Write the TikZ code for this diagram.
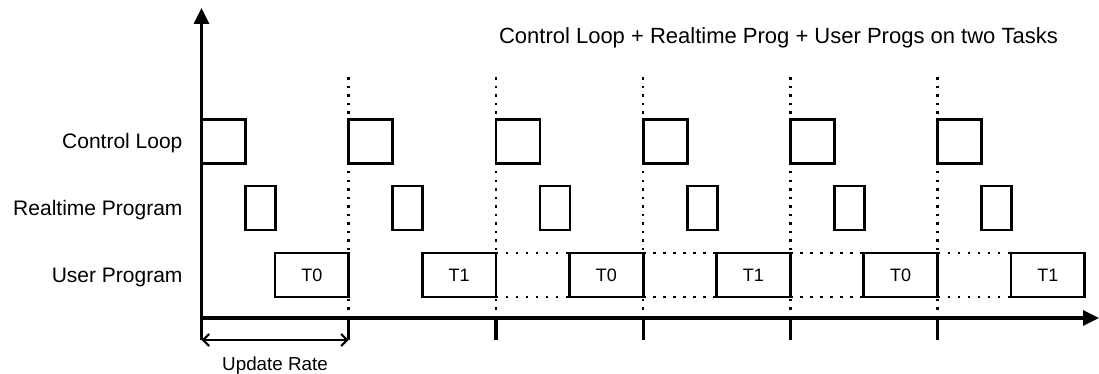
\documentclass[tikz,border=0pt]{standalone}
\usepackage{fontspec}
\setmainfont{Liberation Sans}
\usetikzlibrary{arrows.meta}

\tikzset{
  task/.style={draw, line width=2.8pt, inner sep=0pt, outer sep=0pt, minimum height=44pt, anchor=north west, font=\fontsize{18}{20}\selectfont},
  ctrl/.style={task, minimum width=44pt},
  rtp/.style={task, minimum width=30pt},
  usr/.style={task, minimum width=73.7pt},
  vdots/.style={line width=2.5pt, dash pattern=on 2.5pt off 6pt},
  hdots/.style={line width=2.5pt, dash pattern=on 2.5pt off 7.5pt},
  axis/.style={line width=3.2pt, -{Triangle[length=16pt,width=15pt]}},
  tick/.style={line width=3.2pt},
  rowlabel/.style={anchor=base east, font=\fontsize{21}{24}\selectfont},
}

\begin{document}
\begin{tikzpicture}[x=1pt, y=-1pt]
\useasboundingbox (0,0) rectangle (1099,374);
\coordinate (o) at (201.5,318);
\coordinate (b0) at (201.5,340);
\coordinate (p1) at (348.7,318);
\coordinate (p2) at (495.9,318);
\coordinate (p3) at (643.1,318);
\coordinate (p4) at (790.3,318);
\coordinate (p5) at (937.5,318);
\coordinate (b1) at (348.7,340);
\draw[vdots] (p1) -- (348.7,75);
\draw[vdots] (p2) -- (495.9,75);
\draw[vdots] (p3) -- (643.1,75);
\draw[vdots] (p4) -- (790.3,75);
\draw[vdots] (p5) -- (937.5,75);
\draw[axis] (b0) -- (201.5,8);
\draw[axis] (o) -- (1099,318);
\draw[tick] (p1) -- (b1);
\draw[tick] (p2) -- ++(0,22);
\draw[tick] (p3) -- ++(0,22);
\draw[tick] (p4) -- ++(0,22);
\draw[tick] (p5) -- ++(0,22);
\draw[line width=2.2pt, {Straight Barb[length=6pt,width=12pt]}-{Straight Barb[length=6pt,width=12pt]}] (b0) -- (b1);
\node[anchor=base, font=\fontsize{18.8}{21}\selectfont] (rate) at (275,370) {Update Rate};
\node[anchor=base west, font=\fontsize{22}{25}\selectfont] (title) at (495.5,44) {Control Loop + Realtime Prog + User Progs on two Tasks};
\node[rowlabel] (lcl) at (186,149) {Control Loop};
\node[rowlabel] (lrt) at (186,215) {Realtime Program};
\node[rowlabel] (lusr) at (186,282) {User Program};
\node[ctrl] (c1) at (201.5,119.5) {};
\node[ctrl] (c2) at (348.7,119.5) {};
\node[ctrl] (c3) at (495.9,119.5) {};
\node[ctrl] (c4) at (643.1,119.5) {};
\node[ctrl] (c5) at (790.3,119.5) {};
\node[ctrl] (c6) at (937.5,119.5) {};
\node[rtp] (r1) at (245.5,186) {};
\node[rtp] (r2) at (392.7,186) {};
\node[rtp] (r3) at (539.9,186) {};
\node[rtp] (r4) at (687.1,186) {};
\node[rtp] (r5) at (834.3,186) {};
\node[rtp] (r6) at (981.5,186) {};
\node[usr] (u1) at (275,253) {T0};
\node[usr] (u2) at (422.2,253) {T1};
\node[usr] (u3) at (569.4,253) {T0};
\node[usr] (u4) at (716.6,253) {T1};
\node[usr] (u5) at (863.8,253) {T0};
\node[usr] (u6) at (1011,253) {T1};
\draw[hdots] (u2.north east) -- (u3.north west);
\draw[hdots] (u2.south east) -- (u3.south west);
\draw[hdots] (u3.north east) -- (u4.north west);
\draw[hdots] (u3.south east) -- (u4.south west);
\draw[hdots] (u4.north east) -- (u5.north west);
\draw[hdots] (u4.south east) -- (u5.south west);
\draw[hdots] (u5.north east) -- (u6.north west);
\draw[hdots] (u5.south east) -- (u6.south west);
\end{tikzpicture}
\end{document}
